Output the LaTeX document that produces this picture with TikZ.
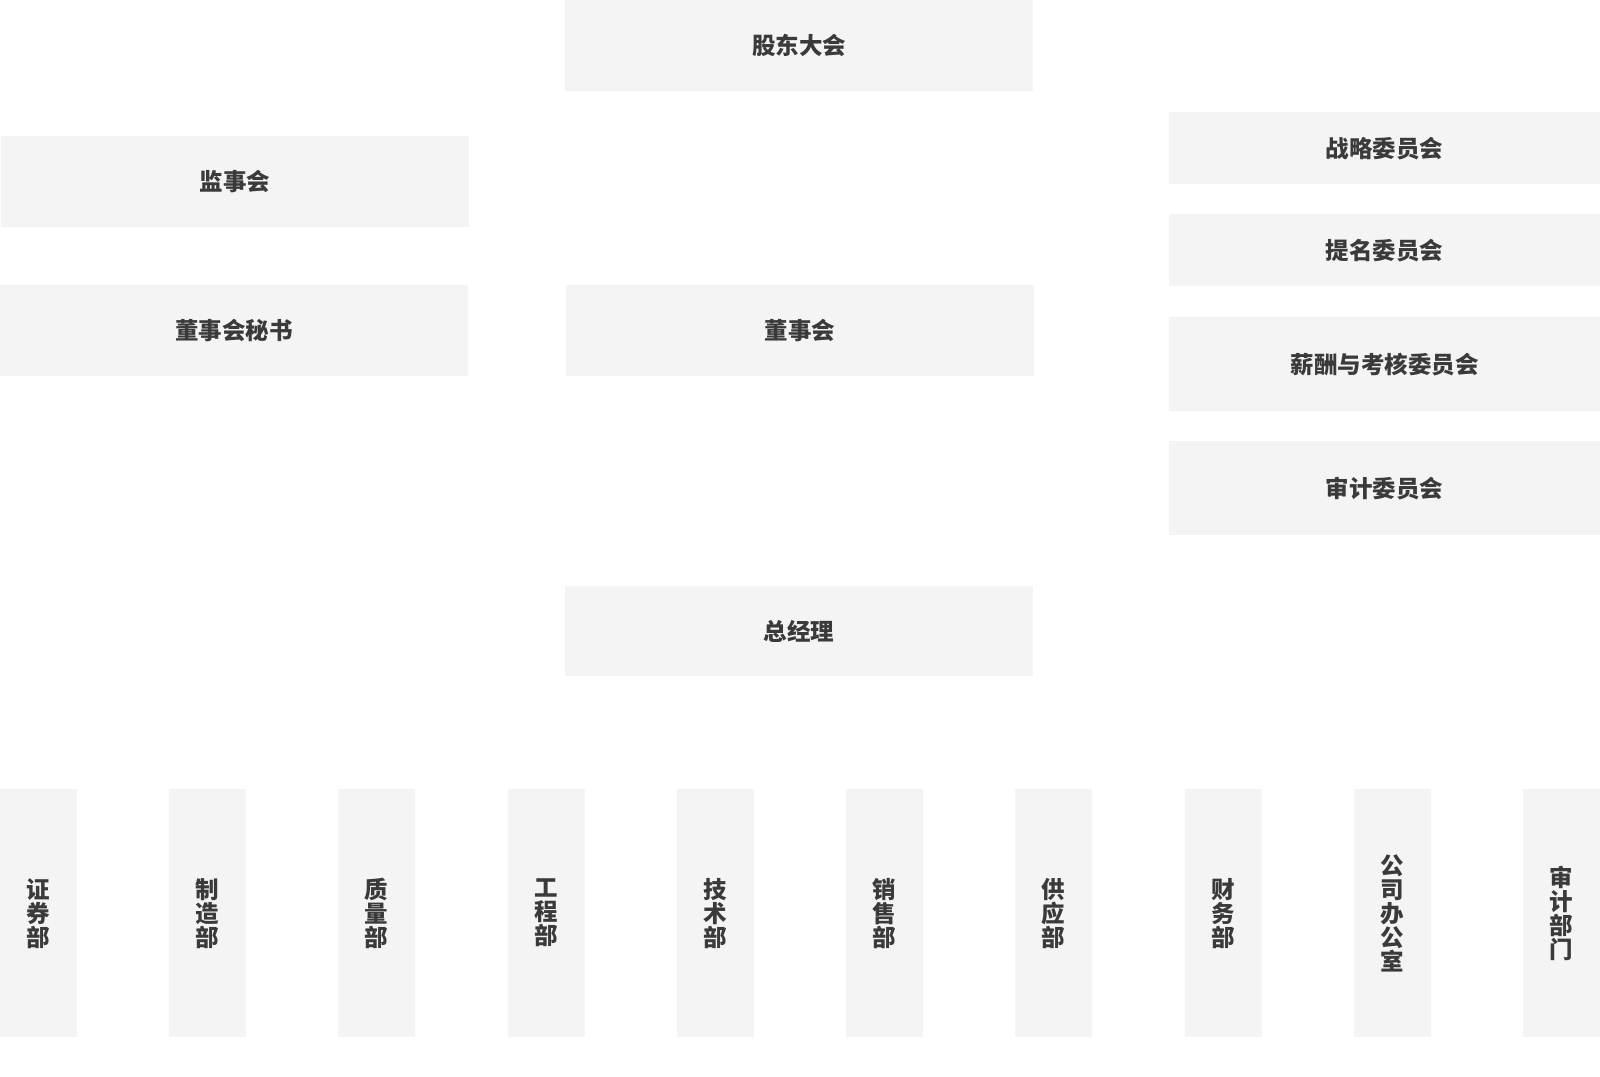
\documentclass[tikz,border=0pt]{standalone}
\usepackage{fontspec}
\newfontfamily\cjk{Noto Sans CJK SC}
\definecolor{boxfill}{HTML}{F4F4F4}
\definecolor{txt}{HTML}{3A3A3A}
\begin{document}
\begin{tikzpicture}[x=1pt,y=-1pt,
  orgbox/.style={fill=boxfill,draw=none,inner sep=0pt,anchor=north west,
    text=txt,font=\cjk\bfseries\fontsize{23.5}{24}\selectfont,align=center},
  wide/.style={orgbox,minimum width=468pt,minimum height=91pt},
  side/.style={orgbox,minimum width=431pt},
  dept/.style={orgbox,minimum width=77pt,minimum height=248pt}]
\useasboundingbox[fill=white] (0,0) rectangle (1600,1076);
\node[wide] (gd) at (565,0) {股东大会};
\node[wide] (js) at (1,136) {监事会};
\node[wide] (ms) at (0,285) {董事会秘书};
\node[wide] (ds) at (566,285) {董事会};
\node[wide,minimum height=90pt] (zjl) at (565,586) {总经理};
\node[side,minimum height=72pt] (zl) at (1169,112) {战略委员会};
\node[side,minimum height=72pt] (tm) at (1169,214) {提名委员会};
\node[side,minimum height=94pt] (xc) at (1169,317) {薪酬与考核委员会};
\node[side,minimum height=94pt] (sj) at (1169,441) {审计委员会};
\node[dept] (d1) at (0,789) {证\\券\\部};
\node[dept] (d2) at (169,789) {制\\造\\部};
\node[dept] (d3) at (338,789) {质\\量\\部};
\node[dept] (d4) at (508,789) {工\\程\\部};
\node[dept] (d5) at (677,789) {技\\术\\部};
\node[dept] (d6) at (846,789) {销\\售\\部};
\node[dept] (d7) at (1015,789) {供\\应\\部};
\node[dept] (d8) at (1185,789) {财\\务\\部};
\node[dept] (d9) at (1354,789) {公\\司\\办\\公\\室};
\node[dept] (d10) at (1523,789) {审\\计\\部\\门};
\end{tikzpicture}
\end{document}
